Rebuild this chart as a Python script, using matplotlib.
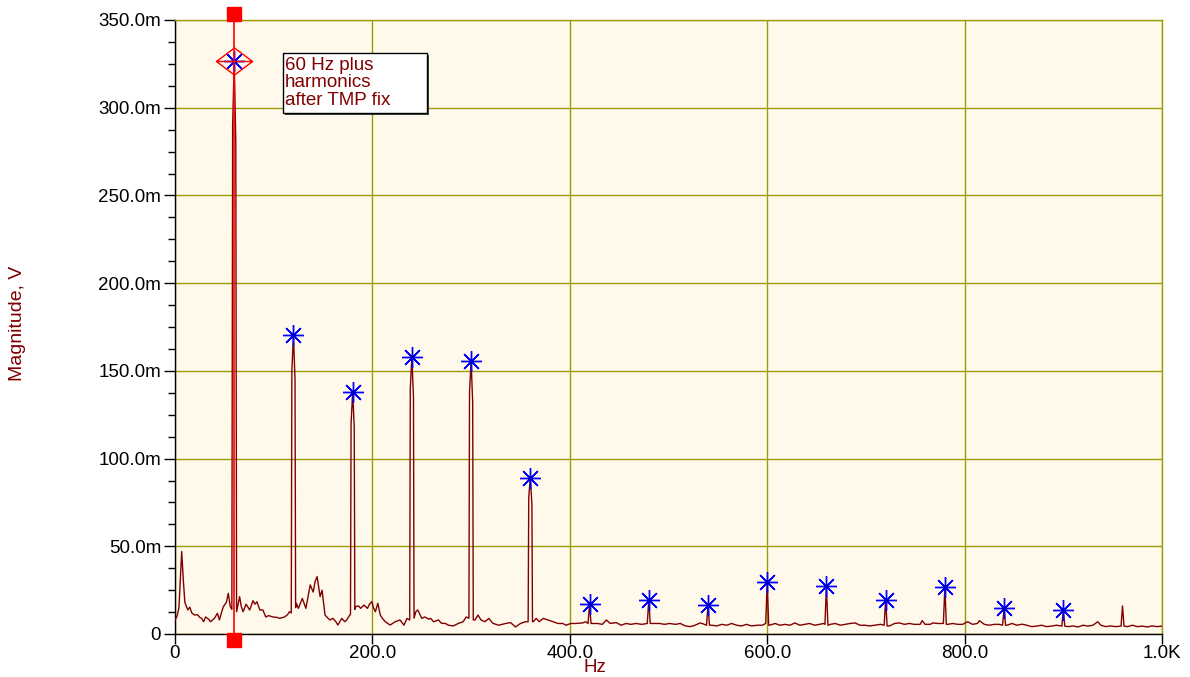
import numpy as np
import matplotlib
matplotlib.use("Agg")
import matplotlib.pyplot as plt
from matplotlib.path import Path
from matplotlib.patches import Rectangle
from matplotlib.transforms import offset_copy
import matplotlib.patheffects as pe

plt.rcParams['font.family'] = ['Liberation Sans', 'DejaVu Sans']

# noise floor of the spectrum (Hz, mV)
base_hz = [0, 2, 4, 6.8, 8.5, 10, 13, 15, 17, 20, 23, 25, 27, 29, 31, 34, 36, 38, 40, 43,
           45, 47, 49, 52, 54, 56, 57.6, 62.4, 65.5, 67, 69, 72, 75.7, 79, 81, 83, 86, 89,
           92, 95, 99, 103, 106, 111, 114, 116, 117.8, 122.2, 123, 125, 129, 132.6, 135,
           137, 140, 142, 144, 147, 149, 152, 155, 157, 160, 163, 165, 169, 172, 174, 177,
           177.8, 182.2, 183, 186, 188, 191.5, 195, 197, 199.5, 201, 203, 205.5, 208, 210,
           213, 218, 223, 228, 232, 235, 237.8, 242.2, 244, 246, 250, 253, 257, 259, 262,
           267, 270, 274, 277, 282, 287, 292, 295, 297.8, 302.2, 304, 307, 310, 314, 318,
           322, 328, 335, 340, 345, 350, 355, 357.8, 362.2, 363, 366, 369, 373, 378, 383,
           388, 393, 396, 401, 406, 413, 416, 418.5, 421.5, 423, 428, 433, 437, 441, 447,
           452, 457, 462, 467, 473, 478.5, 481.5, 486, 491, 496, 501, 507, 512, 517, 522,
           527, 532, 535, 538.5, 541.5, 544, 549, 554, 559, 564, 569, 574, 579, 584, 590,
           595, 598.5, 601.5, 603, 608, 613, 618, 623, 628, 633, 638, 643, 648, 653, 657,
           658.5, 661.5, 664, 669, 674, 679, 684, 689, 694, 699, 704, 709, 715, 718.5,
           721.5, 724, 729, 734, 739, 744, 749, 755, 757, 760, 765, 768, 773, 777, 778.5,
           781.5, 783, 788, 793, 798, 803, 808, 813, 815, 820, 825, 830, 835, 838.5, 841.5,
           843, 848, 853, 858, 863, 868, 873, 878, 883, 888, 893, 898.5, 901.5, 905, 910,
           915, 920, 925, 930, 935, 938, 943, 948, 953, 958.5, 961.5, 965, 970, 975, 980,
           985, 990, 995, 1000]
base_mv = [8, 10, 15, 47, 30, 18, 13.7, 15.3, 12, 10.8, 11, 9.5, 8.9, 7, 9.7, 8.5, 7, 8, 9,
           11.8, 8, 12, 15.6, 18, 23.2, 15.6, 14, 12.7, 21.3, 16, 12.7, 17, 13.7, 19, 17,
           18.4, 13.7, 13.7, 9.7, 10.5, 9.7, 9.5, 8.9, 9.7, 11, 12.7, 12, 15, 17.5, 14.6,
           20.3, 14.6, 22, 28, 23.9, 30, 32.7, 21.3, 25, 10.8, 9, 8, 8.9, 7, 5.1, 8.9, 7,
           8, 10.8, 11, 14, 15.6, 16, 14.6, 16.5, 14.6, 17, 18.4, 15, 12.7, 17.5, 10.8, 9,
           7, 5.1, 7, 8, 5, 8.9, 8, 9, 12.7, 13.7, 8.9, 9.7, 8.5, 8.9, 7,
           8, 6.1, 6, 5, 4.6, 6, 7, 9.7, 9, 8, 8, 10.8, 8, 7, 8.9,
           6.1, 5, 6, 6.5, 4, 6, 7, 7, 7, 7, 8.9, 7, 8.9, 8, 7,
           6, 6, 5, 6, 6, 6.3, 7, 6, 6, 6, 6, 5.5, 8, 6, 6.5,
           5, 6, 5.5, 6, 5.5, 6, 6, 6, 6, 5.5, 6, 5.5, 6, 4.6, 4.2,
           5, 6.3, 5.8, 5, 5, 5, 4.6, 5.5, 5, 6, 5, 4.6, 5.5, 4.6, 5,
           5, 6, 5, 5.1, 6, 5, 5.5, 5, 6.3, 5, 5.5, 6, 5, 5.5, 6,
           5.5, 5, 5.5, 6, 5, 5.5, 6, 6.3, 5, 5, 4.6, 5, 5.5, 5,
           4.6, 4.6, 6, 6.3, 5.5, 6, 5.5, 5.5, 7.6, 5.5, 5.5, 6.3, 6, 6, 6,
           5.5, 5.5, 6, 5.5, 5.5, 7, 5.5, 6, 7.6, 5.5, 5, 5.5, 5.5, 5, 5,
           5, 6, 5, 5.6, 5, 4.2, 4.5, 5, 4.2, 4.5, 5, 4.5, 4.5, 4.2, 4.6,
           4, 5, 4.5, 5, 7, 5, 4.2, 4.6, 4.2, 4.5, 4.5, 4.2, 5, 4.2, 4.5,
           4, 4.6, 4.2, 4.5]

# fundamental and harmonics (Hz, mV)
peak_hz = [60, 120, 180, 240, 300, 360, 420, 480, 540, 600, 660, 720, 780, 840, 900]
peak_mv = [326.7, 170.5, 138, 158, 155.6, 89, 17.1, 19.4, 16.5, 29.6, 27.4, 19.4, 26.8,
           14.8, 13.7]
# the big lines are a few bins wide: points next to the top
shoulder_hz = [58.4, 61.6, 118.4, 121.6, 178.4, 181.6, 238.4, 241.6, 298.4, 301.6,
               358.4, 361.6]
shoulder_mv = [290, 280, 150, 145, 120, 118, 140, 135, 138, 132, 78, 74]
# small unmarked line near 960 Hz
extra_hz = [960]
extra_mv = [16]

cursor_hz = 60

x_ticks = [0, 200, 400, 600, 800, 1000]
x_labels = ['0', '200.0', '400.0', '600.0', '800.0', '1.0K']
y_ticks = [0, 50, 100, 150, 200, 250, 300, 350]
y_labels = ['0', '50.0m', '100.0m', '150.0m', '200.0m', '250.0m', '300.0m', '350.0m']

trace_hz = np.array(base_hz + peak_hz + shoulder_hz + extra_hz)
trace_mv = np.array(base_mv + peak_mv + shoulder_mv + extra_mv)
order = np.argsort(trace_hz)
trace_hz = trace_hz[order]
trace_mv = trace_mv[order]

red = '#ff0000'
dark_red = '#800000'
olive = '#9c9c00'

fig = plt.figure(figsize=(11.9, 6.77), dpi=100)
ax = fig.add_axes([175/1190, 1 - 634/677, 987/1190, 614/677])
ax.set_facecolor('#fff9ec')

ax.set_xlim(0, 1000)
ax.set_ylim(0, 350)
ax.set_xticks(x_ticks)
ax.set_xticklabels(x_labels)
ax.set_yticks(y_ticks)
ax.set_yticklabels(y_labels)
ax.set_yticks(np.arange(0, 351, 12.5), minor=True)
ax.tick_params(axis='both', which='major', direction='out', length=8, width=1,
               labelsize=13.5, colors='black', pad=2)
ax.tick_params(axis='x', which='major', length=7, pad=1)
ax.tick_params(axis='y', which='minor', direction='out', length=5, width=1)
ax.grid(True, which='major', color=olive, lw=1)
ax.set_axisbelow(True)
for side in ['left', 'bottom']:
    ax.spines[side].set_color('black')
    ax.spines[side].set_linewidth(1)
for side in ['top', 'right']:
    ax.spines[side].set_color(olive)
    ax.spines[side].set_linewidth(1)

# spectrum
ax.plot(trace_hz, trace_mv, color=dark_red, lw=1, zorder=3)

# harmonic markers
ax.plot(peak_hz, peak_mv, ls='none', marker=(8, 2, 0), ms=15, mew=1, color='#0000ff', zorder=5)
ax.plot(peak_hz, peak_mv, ls='none', marker='o', ms=2.5, color='#0000cc', zorder=5)

# cursor at 60 Hz
ax.axvline(cursor_hz, ymin=-0.01, ymax=1.01, color=red, lw=1.2, clip_on=False, zorder=6)
top = offset_copy(ax.get_xaxis_transform(), fig, y=6, units='dots')
bot = offset_copy(ax.get_xaxis_transform(), fig, y=-6, units='dots')
ax.plot([cursor_hz], [1], transform=top, marker='s', ms=10, color=red, clip_on=False, zorder=7)
ax.plot([cursor_hz], [0], transform=bot, marker='s', ms=10, color=red, clip_on=False, zorder=7)
diamond = Path([(-1, 0), (0, 0.75), (1, 0), (0, -0.75), (-1, 0), (1, 0)],
               [Path.MOVETO, Path.LINETO, Path.LINETO, Path.LINETO, Path.LINETO, Path.LINETO])
ax.plot([cursor_hz], [peak_mv[0]], ls='none', marker=diamond, ms=26, mfc='none', mec=red,
        mew=1, zorder=7)

# annotation box
box = Rectangle((0.1094, 0.8485), 0.146, 0.098, transform=ax.transAxes, facecolor='white',
                edgecolor='black', lw=1, zorder=8,
                path_effects=[pe.SimplePatchShadow(offset=(1.5, -1.5), shadow_rgbFace='#333333',
                                                   alpha=0.9), pe.Normal()])
ax.add_patch(box)
ax.text(0.1115, 0.9397, '60 Hz plus\nharmonics\nafter TMP fix', transform=ax.transAxes,
        ha='left', va='top', fontsize=13.5, color=dark_red, linespacing=1.03, zorder=9)

fig.text(0.5, 0.0135, 'Hz', ha='center', va='center', fontsize=13.5, color=dark_red)
fig.text(0.0145, 0.523, 'Magnitude, V', ha='center', va='center', rotation=90,
         fontsize=14, color=dark_red)

fig.savefig('out.png', dpi=100)
